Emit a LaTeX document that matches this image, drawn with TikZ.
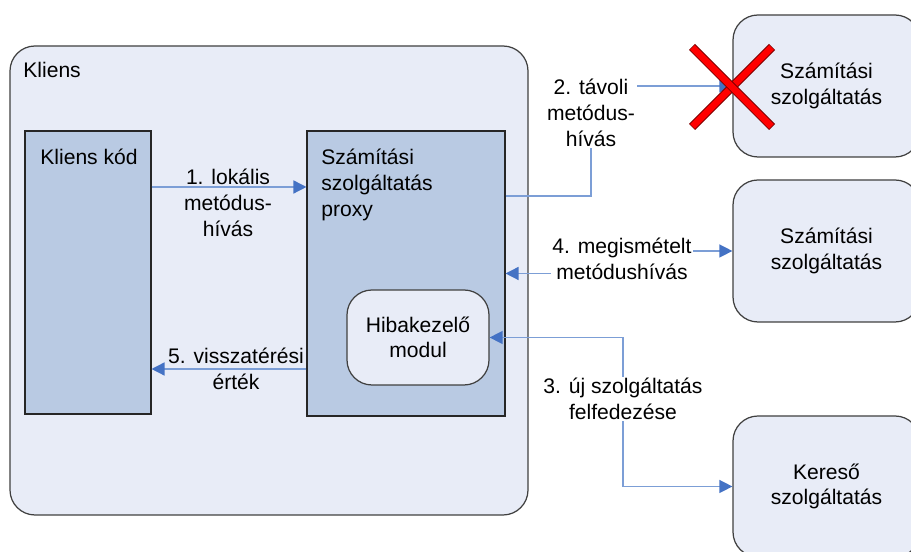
\documentclass[tikz,border=0pt]{standalone}
\usepackage{fontspec}
\setmainfont{Liberation Sans}
\usetikzlibrary{arrows.meta,calc}
\definecolor{KlBack}{HTML}{E8ECF7}
\definecolor{KlBox}{HTML}{B9CAE3}
\definecolor{KlEdge}{HTML}{404040}
\definecolor{KlLine}{HTML}{7C9ED6}
\definecolor{KlTip}{HTML}{4472C4}
\definecolor{KlCross}{HTML}{FF0000}
\definecolor{KlCrossEdge}{HTML}{800000}

\begin{document}
\begin{tikzpicture}[font=\fontsize{12}{14.6}\selectfont,
  >={Triangle[length=0.26cm, width=0.26cm, fill=KlTip, color=KlTip]},
  outer/.style={draw=KlEdge, fill=KlBack, rounded corners=0.5cm, line width=0.7pt,
                minimum width=10.36cm, minimum height=9.38cm},
  part/.style={draw=KlEdge!60!black, fill=KlBox, line width=0.6pt},
  svc/.style={draw=KlEdge, fill=KlBack, rounded corners=0.5cm, line width=0.7pt,
              align=center, minimum width=3.74cm, minimum height=2.84cm},
  modbox/.style={draw=KlEdge, fill=KlBack, rounded corners=0.5cm, line width=0.7pt,
                 align=center, minimum width=2.84cm, minimum height=1.9cm},
  conn/.style={draw=KlLine, line width=0.8pt},
  lbl/.style={align=center, inner sep=1pt},
  cut/.style={lbl, fill=white},
]
\useasboundingbox (0,0) rectangle (18.22,11.04);
\clip (0,0) rectangle (18.22,11.04);

%% ---- client side ----
\node[outer] (kliens) at (5.38,5.43) {};
\node[anchor=base west, inner sep=0pt] (kliensT) at (0.46,9.48) {Kliens};
\node[part, minimum width=2.52cm, minimum height=5.66cm] (kod) at (1.76,5.59) {};
\node[anchor=base west, inner sep=0pt] (kodT) at (0.8,7.74) {Kliens kód};
\node[part, minimum width=3.96cm, minimum height=5.7cm] (proxy) at (8.12,5.57) {};
\node[anchor=west, align=left, inner sep=0pt] (proxyT) at (6.42,7.34)
  {Számítási\\szolgáltatás\\proxy};
\node[modbox] (hiba) at (8.36,4.29) {Hibakezelő\\modul};

%% ---- services ----
\node[svc] (svc1) at (16.53,9.32) {Számítási\\szolgáltatás};
\node[svc] (svc2) at (16.53,6.02) {Számítási\\szolgáltatás};
\node[svc, minimum height=2.82cm] (kereso) at (16.53,1.31) {Kereső\\szolgáltatás};

%% ---- connectors ----
\coordinate (a1) at ([yshift=1.71cm]kod.east);
\coordinate (a5) at ([yshift=-1.93cm]kod.east);
\coordinate (a2) at ([yshift=1.55cm]proxy.east);
\coordinate (m2) at (11.82,8.78);
\coordinate (m4) at (12.44,5.86);
\coordinate (m3) at (12.46,3.06);
\draw[conn, ->] (a1) -- (a1 -| proxy.west);
\draw[conn, ->] (a5 -| proxy.west) -- (a5);
\draw[conn, ->] (a2) -| (m2) |- (svc1.west);
\draw[conn, <->] (proxy.east) -| (m4) |- (svc2.west);
\draw[conn, <->] (hiba.east) -| (m3) |- (kereso.west);

%% ---- labels ----
\node[lbl] (l1) at (4.56,6.98) {1. lokális\\metódus-\\hívás};
\node[lbl] (l5) at (4.72,3.66) {5. visszatérési\\érték};
\node[cut] (l2) at (m2) {2. távoli\\metódus-\\hívás};
\node[cut] (l4) at (m4) {4. megismételt\\metódushívás};
\node[cut] (l3) at (m3) {3. új szolgáltatás\\felfedezése};

%% ---- failed service ----
\foreach \s in {1,-1} {
  \draw[KlCrossEdge, line width=0.17cm] (14.64-0.8,9.3-0.8*\s) -- (14.64+0.8,9.3+0.8*\s);
  \draw[KlCross, line width=0.13cm] (14.64-0.79,9.3-0.79*\s) -- (14.64+0.79,9.3+0.79*\s);
}
\end{tikzpicture}
\end{document}
